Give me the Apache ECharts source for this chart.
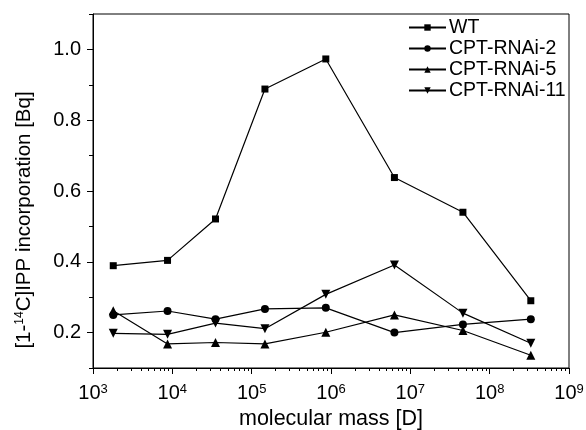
<!DOCTYPE html>
<html>
<head>
<meta charset="utf-8">
<script src="https://cdn.jsdelivr.net/npm/echarts@6/dist/echarts.min.js"></script>
<style>html,body{margin:0;padding:0;background:#fff}#c{width:586px;height:430px}</style>
</head>
<body>
<div id="c"></div>
<script>
// molecular mass [D] for each fraction
var masses = [1800, 8700, 35000, 147000, 860000, 6300000, 46000000, 330000000];
var wt      = [0.389, 0.404, 0.521, 0.888, 0.973, 0.638, 0.540, 0.290];
var rnai2   = [0.250, 0.261, 0.238, 0.267, 0.270, 0.200, 0.223, 0.238];
var rnai5   = [0.262, 0.168, 0.172, 0.168, 0.201, 0.250, 0.206, 0.136];
var rnai11  = [0.198, 0.195, 0.227, 0.211, 0.308, 0.391, 0.255, 0.170];
var seriesNames = ['WT', 'CPT-RNAi-2', 'CPT-RNAi-5', 'CPT-RNAi-11'];
var xTickValues = [1e3, 1e4, 1e5, 1e6, 1e7, 1e8, 1e9];
var yLabelValues = [0.2, 0.4, 0.6, 0.8, 1.0];
var yMinorValues = [0.1, 0.3, 0.5, 0.7, 0.9, 1.1];

var xMinor = [];
for (var d = 3; d < 9; d++) for (var k = 2; k <= 9; k++) xMinor.push(k * Math.pow(10, d));

function pairs(ys) { return masses.map(function (m, i) { return [m, ys[i]]; }); }

var FONT = '"Liberation Sans", Arial, sans-serif';
var chart = echarts.init(document.getElementById('c'), null, {renderer: 'canvas'});

function mk(name, ys, symbol, size, rot) {
  return {
    name: name, type: 'line', data: pairs(ys), xAxisIndex: 0, yAxisIndex: 0,
    symbol: symbol, symbolSize: size, symbolRotate: rot || 0,
    showAllSymbol: true,
    lineStyle: {color: '#000', width: 1.2},
    itemStyle: {color: '#000'},
    emphasis: {disabled: true},
    animation: false
  };
}

chart.setOption({
  animation: false,
  backgroundColor: '#fff',
  textStyle: {fontFamily: FONT, color: '#000'},
  grid: {left: 93, top: 14, right: 17, bottom: 62, show: true, borderColor: '#000', borderWidth: 1,
    backgroundColor: 'transparent', containLabel: false, outerBoundsMode: 'none'},
  legend: {
    orient: 'vertical', left: 408, top: 17, padding: 0, itemWidth: 37, itemHeight: 8, itemGap: 0,
    data: seriesNames,
    textStyle: {fontFamily: FONT, fontSize: 19.5, lineHeight: 21, color: '#000', padding: [0, 0, 0, -2]},
    inactiveColor: '#000'
  },
  xAxis: [{
    type: 'log', logBase: 10, min: 1e3, max: 1e9, position: 'bottom',
    name: 'molecular mass [D]', nameLocation: 'middle', nameGap: 33,
    nameTextStyle: {fontFamily: FONT, fontSize: 21.5, color: '#000'},
    axisLine: {show: true, lineStyle: {color: '#000', width: 1}},
    axisTick: {show: true, inside: false, length: 6, customValues: xTickValues, lineStyle: {color: '#000'}},
    axisLabel: {
      show: true, margin: 15, customValues: xTickValues, color: '#000',
      formatter: function (v) { return '{b|10}{s|' + Math.round(Math.log10(v)) + '}'; },
      rich: {
        b: {fontFamily: FONT, fontSize: 20, color: '#000'},
        s: {fontFamily: FONT, fontSize: 13, color: '#000', verticalAlign: 'top'}
      }
    },
    splitLine: {show: false}
  }, {
    type: 'log', logBase: 10, min: 1e3, max: 1e9, position: 'bottom',
    axisLine: {show: false},
    axisTick: {show: true, inside: false, length: 3, customValues: xMinor, lineStyle: {color: '#000'}},
    axisLabel: {show: false},
    splitLine: {show: false}
  }],
  yAxis: [{
    type: 'value', min: 0.1, max: 1.1, position: 'left',
    name: '[1-{s|14}C]IPP incorporation [Bq]', nameLocation: 'middle', nameGap: 58,
    nameTextStyle: {fontFamily: FONT, fontSize: 20.5, color: '#000', padding: [0, 58, 0, 0],
      rich: {s: {fontFamily: FONT, fontSize: 12, color: '#000', verticalAlign: 'top'}}},
    axisLine: {show: true, lineStyle: {color: '#000', width: 1}},
    axisTick: {show: true, inside: false, length: 6, customValues: yLabelValues, lineStyle: {color: '#000'}},
    axisLabel: {show: true, margin: 12, customValues: yLabelValues, fontFamily: FONT, fontSize: 20, color: '#000',
      formatter: function (v) { return v.toFixed(1); }},
    splitLine: {show: false}
  }, {
    type: 'value', min: 0.1, max: 1.1, position: 'left',
    axisLine: {show: false},
    axisTick: {show: true, inside: false, length: 4, customValues: yMinorValues, lineStyle: {color: '#000'}},
    axisLabel: {show: false},
    splitLine: {show: false}
  }],
  series: [
    mk(seriesNames[0], wt, 'rect', 7),
    mk(seriesNames[1], rnai2, 'circle', 8),
    mk(seriesNames[2], rnai5, 'triangle', 9),
    mk(seriesNames[3], rnai11, 'triangle', 9, 180)
  ]
});
</script>
</body>
</html>
